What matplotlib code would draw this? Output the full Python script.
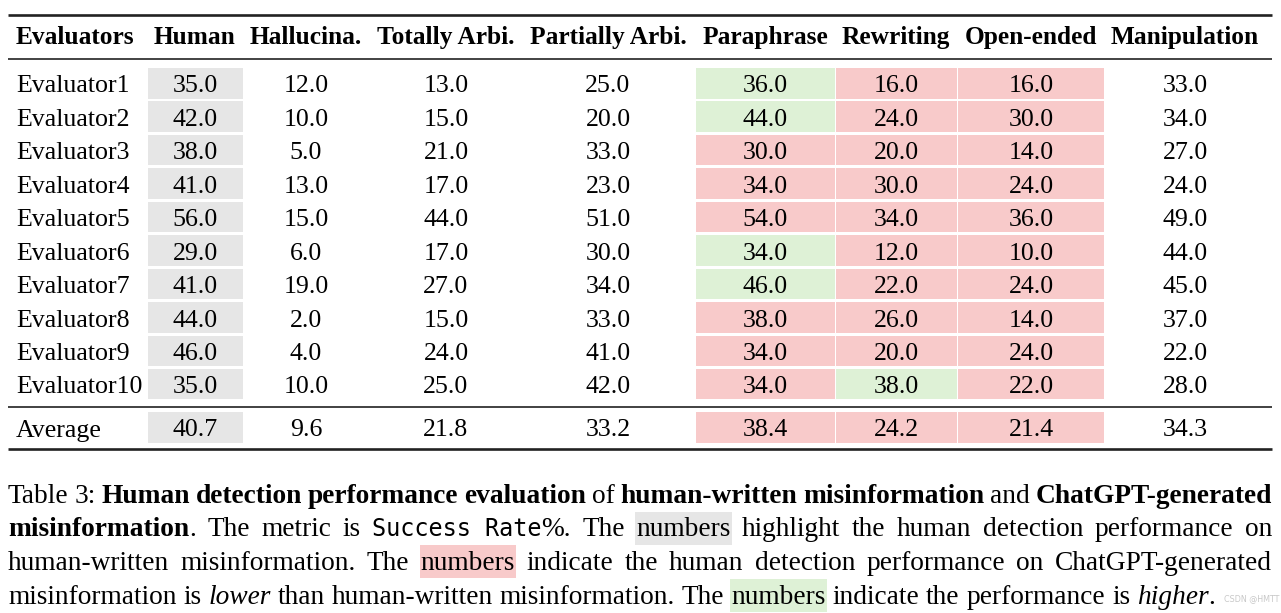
import matplotlib
matplotlib.use('Agg')
import matplotlib.pyplot as plt
from matplotlib.patches import Rectangle

# ---------------- data ----------------
evaluators = ['Evaluator1', 'Evaluator2', 'Evaluator3', 'Evaluator4', 'Evaluator5',
              'Evaluator6', 'Evaluator7', 'Evaluator8', 'Evaluator9', 'Evaluator10']
columns = ['Human', 'Hallucina.', 'Totally Arbi.', 'Partially Arbi.',
           'Paraphrase', 'Rewriting', 'Open-ended', 'Manipulation']
human = [35.0, 42.0, 38.0, 41.0, 56.0, 29.0, 41.0, 44.0, 46.0, 35.0]
hallucina = [12.0, 10.0, 5.0, 13.0, 15.0, 6.0, 19.0, 2.0, 4.0, 10.0]
totally = [13.0, 15.0, 21.0, 17.0, 44.0, 17.0, 27.0, 15.0, 24.0, 25.0]
partially = [25.0, 20.0, 33.0, 23.0, 51.0, 30.0, 34.0, 33.0, 41.0, 42.0]
paraphrase = [36.0, 44.0, 30.0, 34.0, 54.0, 34.0, 46.0, 38.0, 34.0, 34.0]
rewriting = [16.0, 24.0, 20.0, 30.0, 34.0, 12.0, 22.0, 26.0, 20.0, 38.0]
openended = [16.0, 30.0, 14.0, 24.0, 36.0, 10.0, 24.0, 14.0, 24.0, 22.0]
manipulation = [33.0, 34.0, 27.0, 24.0, 49.0, 44.0, 45.0, 37.0, 22.0, 28.0]
average = [40.7, 9.6, 21.8, 33.2, 38.4, 24.2, 21.4, 34.3]

# ---------------- layout / style ----------------
W, H = 1281, 613
fig = plt.figure(figsize=(W / 100, H / 100), dpi=100)
ax = fig.add_axes([0, 0, 1, 1])
ax.set_xlim(0, W)
ax.set_ylim(H, 0)
ax.axis('off')

SERIF = 'Liberation Serif'
MONO = 'DejaVu Sans Mono'
BODY = 18.6
HEAD = 18.3
CAP = 19.7
GRAY = '#e6e6e6'
RED = '#f8caca'
GREEN = '#def1d6'
RULE = '#222222'

X0, X1 = 8, 1272
col_centers = [195, 306, 446, 608, 765, 896, 1031, 1185]
col_spans = {0: (147, 243), 4: (695, 835), 5: (835, 957), 6: (957, 1104)}

# rules
ax.plot([X0, X1], [15, 15], color=RULE, lw=1.9, solid_capstyle='butt')
ax.plot([X0, X1], [58.5, 58.5], color=RULE, lw=1.2, solid_capstyle='butt')
ax.plot([X0, X1], [407, 407], color='#333333', lw=1.3, solid_capstyle='butt')
ax.plot([X0, X1], [449, 449], color=RULE, lw=1.9, solid_capstyle='butt')

# header
HEAD_BASE = 44
ax.text(16, HEAD_BASE, 'Evaluators', family=SERIF, weight='bold', size=HEAD,
        ha='left', va='baseline')
for c, name in zip(col_centers, columns):
    ax.text(c, HEAD_BASE, name, family=SERIF, weight='bold', size=HEAD,
            ha='center', va='baseline')

table = [human, hallucina, totally, partially, paraphrase, rewriting, openended, manipulation]
row_centers = [83 + 33.44 * i for i in range(len(evaluators))]
avg_center = 427


def cell_bg(j, yc, color):
    x0, x1 = col_spans[j]
    ax.add_patch(Rectangle((x0 + 0.5, yc - 15), x1 - x0 - 1, 30.5,
                           facecolor=color, edgecolor='none', zorder=0))


def row(label, values, yc, base_vals):
    ax.text(16, yc + 9.5, label, family=SERIF, size=BODY, ha='left', va='baseline')
    for j, v in enumerate(values):
        if j == 0:
            cell_bg(j, yc, GRAY)
        elif j in (4, 5, 6):
            cell_bg(j, yc, GREEN if v > base_vals else RED)
        ax.text(col_centers[j], yc + 9.5, f'{v:.1f}', family=SERIF, size=BODY,
                ha='center', va='baseline')


for i, name in enumerate(evaluators):
    vals = [col[i] for col in table]
    row(name, vals, row_centers[i], human[i])
row('Average', average, avg_center, average[0])

# ---------------- caption ----------------
fig.canvas.draw()
renderer = fig.canvas.get_renderer()


def props(style):
    if style == 'b':
        return dict(family=SERIF, weight='bold', size=CAP)
    if style == 'i':
        return dict(family=SERIF, style='italic', size=CAP)
    if style == 'm':
        return dict(family=MONO, size=CAP * 0.86)
    return dict(family=SERIF, size=CAP)


def width(text, style):
    t = ax.text(0, 0, text, **props(style))
    w = t.get_window_extent(renderer).width
    t.remove()
    return w


SPACE = width('a a', 'r') - width('aa', 'r')

caption = [
    [[('Table', 'r')], [('3:', 'r')], [('Human', 'b')], [('detection', 'b')],
     [('performance', 'b')], [('evaluation', 'b')], [('of', 'r')],
     [('human-written', 'b')], [('misinformation', 'b')], [('and', 'r')],
     [('ChatGPT-generated', 'b')]],
    [[('misinformation', 'b'), ('.', 'r')], [('The', 'r')], [('metric', 'r')],
     [('is', 'r')], [('Success Rate', 'm'), ('%.', 'r')], [('The', 'r')],
     [('numbers', 'r', GRAY)], [('highlight', 'r')], [('the', 'r')], [('human', 'r')],
     [('detection', 'r')], [('performance', 'r')], [('on', 'r')]],
    [[('human-written', 'r')], [('misinformation.', 'r')], [('The', 'r')],
     [('numbers', 'r', RED)], [('indicate', 'r')], [('the', 'r')], [('human', 'r')],
     [('detection', 'r')], [('performance', 'r')], [('on', 'r')],
     [('ChatGPT-generated', 'r')]],
    [[('misinformation', 'r')], [('is', 'r')], [('lower', 'i')], [('than', 'r')],
     [('human-written', 'r')], [('misinformation.', 'r')], [('The', 'r')],
     [('numbers', 'r', GREEN)], [('indicate', 'r')], [('the', 'r')],
     [('performance', 'r')], [('is', 'r')], [('higher', 'i'), ('.', 'r')]],
]
cap_bases = [503, 536.5, 570, 603.5]

for li, (tokens, base) in enumerate(zip(caption, cap_bases)):
    widths = [[width(p[0], p[1]) for p in tok] for tok in tokens]
    total = sum(sum(w) for w in widths)
    if li < len(caption) - 1:
        gap = (X1 - X0 - total) / (len(tokens) - 1)
    else:
        gap = SPACE
    x = X0
    for tok, ws in zip(tokens, widths):
        for p, w in zip(tok, ws):
            if len(p) > 2:
                ax.add_patch(Rectangle((x - 1, base - 25), w + 2, 33,
                                       facecolor=p[2], edgecolor='none', zorder=0))
            ax.text(x, base, p[0], ha='left', va='baseline', **props(p[1]))
            x += w
        x += gap

ax.text(1279, 601, 'CSDN @HMTT', family='DejaVu Sans', size=5.8, color='#c8c8c8',
        ha='right', va='baseline')

fig.savefig('out.png', dpi=100)
